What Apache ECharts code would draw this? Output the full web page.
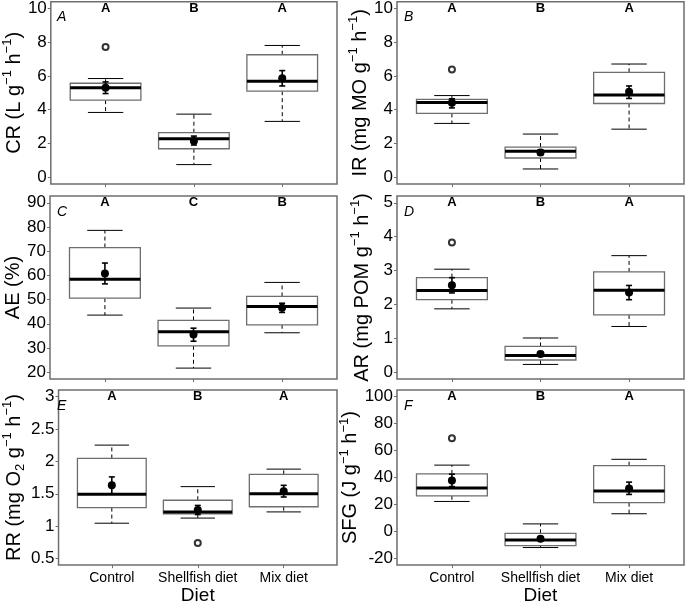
<!DOCTYPE html>
<html>
<head>
<meta charset="utf-8">
<script src="https://cdn.jsdelivr.net/npm/echarts@6/dist/echarts.min.js"></script>
<style>html,body{margin:0;padding:0;background:#fff}#c{width:685px;height:606px}</style>
</head>
<body>
<div id="c"></div>
<script>
// ---- data ----
const categories = ['Control', 'Shellfish diet', 'Mix diet'];

// box: [lower whisker, Q1, median, Q3, upper whisker]
const crBox = [[3.84, 4.57, 5.30, 5.57, 5.85], [0.75, 1.69, 2.28, 2.64, 3.74], [3.31, 5.10, 5.69, 7.26, 7.81]];
const crMean = [5.30, 2.15, 5.87];
const crErr = [[4.96, 5.65], [1.91, 2.44], [5.41, 6.32]];
const crOut = [[0, 7.72]];
const crLetters = ['A', 'B', 'A'];
const crTicks = [0, 2, 4, 6, 8, 10];

const irBox = [[3.19, 3.78, 4.43, 4.61, 4.84], [0.49, 1.14, 1.54, 1.79, 2.56], [2.85, 4.37, 4.88, 6.22, 6.71]];
const irMean = [4.41, 1.46, 5.06];
const irErr = [[4.11, 4.65], [1.32, 1.63], [4.67, 5.41]];
const irOut = [[0, 6.38]];
const irLetters = ['A', 'B', 'A'];
const irTicks = [0, 2, 4, 6, 8, 10];

const aeBox = [[43.6, 50.6, 58.4, 71.5, 78.6], [21.7, 30.9, 36.7, 41.4, 46.5], [36.3, 39.6, 47.1, 51.3, 57.1]];
const aeMean = [60.8, 35.6, 46.6];
const aeErr = [[56.5, 65.1], [32.8, 38.2], [44.7, 48.5]];
const aeOut = [];
const aeLetters = ['A', 'C', 'B'];
const aeTicks = [20, 30, 40, 50, 60, 70, 80, 90];

const arBox = [[1.87, 2.14, 2.41, 2.79, 3.04], [0.23, 0.36, 0.49, 0.76, 1.01], [1.35, 1.69, 2.42, 2.96, 3.44]];
const arMean = [2.57, 0.54, 2.35];
const arErr = [[2.34, 2.79], [0.47, 0.60], [2.14, 2.56]];
const arOut = [[0, 3.83]];
const arLetters = ['A', 'B', 'A'];
const arTicks = [0, 1, 2, 3, 4, 5];

const rrBox = [[1.046, 1.287, 1.494, 2.045, 2.25], [1.125, 1.19, 1.22, 1.40, 1.61], [1.22, 1.30, 1.50, 1.80, 1.88]];
const rrMean = [1.63, 1.25, 1.54];
const rrErr = [[1.50, 1.76], [1.18, 1.32], [1.45, 1.63]];
const rrOut = [[1, 0.74]];
const rrLetters = ['A', 'B', 'A'];
const rrTicks = [0.5, 1, 1.5, 2, 2.5, 3];

const sfgBox = [[22.3, 26.5, 32.2, 42.7, 49.2], [-11.8, -10.4, -6.2, -1.3, 5.7], [13.2, 21.4, 30.1, 48.8, 53.5]];
const sfgMean = [37.8, -5.3, 31.9];
const sfgErr = [[33.3, 42.5], [-6.7, -3.9], [27.5, 36.6]];
const sfgOut = [[0, 69.1]];
const sfgLetters = ['A', 'B', 'A'];
const sfgTicks = [-20, 0, 20, 40, 60, 80, 100];

// ---- panels ----
const FONT = "'Liberation Sans', Arial, Helvetica, sans-serif";
const panels = [
  {tag: 'A', box: crBox, mean: crMean, err: crErr, out: crOut, letters: crLetters, ticks: crTicks, ylim: [0, 10],
   name: '{m|CR (L g}{s|−1}{m| h}{s|−1}{m|)}'},
  {tag: 'B', box: irBox, mean: irMean, err: irErr, out: irOut, letters: irLetters, ticks: irTicks, ylim: [0, 10],
   name: '{m|IR (mg MO g}{s|−1}{m| h}{s|−1}{m|)}'},
  {tag: 'C', box: aeBox, mean: aeMean, err: aeErr, out: aeOut, letters: aeLetters, ticks: aeTicks, ylim: [20, 90],
   name: '{m|AE (%)}'},
  {tag: 'D', box: arBox, mean: arMean, err: arErr, out: arOut, letters: arLetters, ticks: arTicks, ylim: [0, 5],
   name: '{m|AR (mg POM g}{s|−1}{m| h}{s|−1}{m|)}'},
  {tag: 'E', box: rrBox, mean: rrMean, err: rrErr, out: rrOut, letters: rrLetters, ticks: rrTicks, ylim: [0.5, 3],
   name: '{m|RR (mg O}{b|2}{m| g}{s|−1}{m| h}{s|−1}{m|)}'},
  {tag: 'F', box: sfgBox, mean: sfgMean, err: sfgErr, out: sfgOut, letters: sfgLetters, ticks: sfgTicks, ylim: [-20, 100],
   name: '{m|SFG (J g}{s|−1}{m| h}{s|−1}{m|)}'}
];

const colLeft = [50, 397];
const rowTop = [1, 196, 390];
const GW = 287, GH = 183;

function renderBox(params, api) {
  const x = api.value(0);
  const lo = api.coord([x, api.value(1)]);
  const q1 = api.coord([x, api.value(2)]);
  const md = api.coord([x, api.value(3)]);
  const q3 = api.coord([x, api.value(4)]);
  const hi = api.coord([x, api.value(5)]);
  const half = api.size([0.4, 0])[0];
  const cap = api.size([0.2, 0])[0];
  const cx = md[0];
  const dash = {stroke: '#000', lineWidth: 1, lineDash: [4, 3]};
  const solid = {stroke: '#000', lineWidth: 1};
  return {type: 'group', children: [
    {type: 'line', shape: {x1: cx, y1: q3[1], x2: cx, y2: hi[1]}, style: dash},
    {type: 'line', shape: {x1: cx, y1: q1[1], x2: cx, y2: lo[1]}, style: dash},
    {type: 'line', shape: {x1: cx - cap, y1: hi[1], x2: cx + cap, y2: hi[1]}, style: solid},
    {type: 'line', shape: {x1: cx - cap, y1: lo[1], x2: cx + cap, y2: lo[1]}, style: solid},
    {type: 'rect', shape: {x: cx - half, y: q3[1], width: 2 * half, height: q1[1] - q3[1]},
     style: {fill: '#fff', stroke: '#6e6e6e', lineWidth: 1.3}},
    {type: 'line', shape: {x1: cx - half, y1: md[1], x2: cx + half, y2: md[1]}, style: {stroke: '#000', lineWidth: 3}}
  ]};
}

function renderMean(params, api) {
  const x = api.value(0);
  const m = api.coord([x, api.value(1)]);
  const lo = api.coord([x, api.value(2)]);
  const hi = api.coord([x, api.value(3)]);
  const st = {stroke: '#000', lineWidth: 1.6};
  return {type: 'group', children: [
    {type: 'line', shape: {x1: m[0], y1: lo[1], x2: m[0], y2: hi[1]}, style: st},
    {type: 'line', shape: {x1: m[0] - 3, y1: lo[1], x2: m[0] + 3, y2: lo[1]}, style: st},
    {type: 'line', shape: {x1: m[0] - 3, y1: hi[1], x2: m[0] + 3, y2: hi[1]}, style: st},
    {type: 'circle', shape: {cx: m[0], cy: m[1], r: 4}, style: {fill: '#000'}}
  ]};
}

function renderLetter(params, api) {
  const p = api.coord([api.value(0), api.value(1)]);
  return {type: 'text', x: p[0], y: p[1], style: {
    text: panels[params.seriesIndex >> 2].letters[params.dataIndex],
    font: 'bold 13px ' + FONT, fill: '#000', align: 'center', verticalAlign: 'middle'}};
}

const grid = [], xAxis = [], yAxis = [], series = [], graphic = [];
panels.forEach((p, i) => {
  const col = i % 2, row = Math.floor(i / 2);
  const left = colLeft[col], top = rowTop[row];
  grid.push({left: left, top: top, width: GW, height: GH, show: true, borderColor: '#6e6e6e', borderWidth: 1.5,
             backgroundColor: 'transparent', containLabel: false});
  const bottom = row === 2;
  xAxis.push({gridIndex: i, type: 'value', min: 0.38, max: 3.62, position: 'bottom',
    axisLine: {show: false, onZero: false}, splitLine: {show: false},
    axisTick: {show: true, length: 3, customValues: [1, 2, 3], lineStyle: {color: '#6e6e6e', width: 1}},
    axisLabel: {show: bottom, customValues: [1, 2, 3], formatter: v => categories[Math.round(v) - 1] || '',
                fontFamily: FONT, fontSize: 14, color: '#000', margin: 6},
    name: bottom ? 'Diet' : '', nameLocation: 'middle', nameGap: 20,
    nameTextStyle: {fontFamily: FONT, fontSize: 19, color: '#000'}});
  const pad = (p.ylim[1] - p.ylim[0]) * 0.04;
  yAxis.push({gridIndex: i, type: 'value', min: p.ylim[0] - pad, max: p.ylim[1] + pad, position: 'left',
    axisLine: {show: false, onZero: false}, splitLine: {show: false},
    axisTick: {show: true, length: 3, customValues: p.ticks, lineStyle: {color: '#6e6e6e', width: 1}},
    axisLabel: {customValues: p.ticks, fontFamily: FONT, fontSize: 17, color: '#000', margin: 4},
    name: p.name, nameLocation: 'middle', nameRotate: 90, nameGap: 22,
    nameTextStyle: {fontFamily: FONT, rich: {
      m: {fontFamily: FONT, fontSize: 20, color: '#000', lineHeight: 26},
      s: {fontFamily: FONT, fontSize: 13, color: '#000', lineHeight: 15, verticalAlign: 'top'},
      b: {fontFamily: FONT, fontSize: 13, color: '#000', lineHeight: 15, verticalAlign: 'bottom'}
    }}});
  series.push({type: 'custom', xAxisIndex: i, yAxisIndex: i, renderItem: renderBox,
    encode: {x: 0, y: [1, 2, 3, 4, 5]},
    data: p.box.map((b, k) => [k + 1].concat(b)), silent: true, z: 2});
  series.push({type: 'scatter', xAxisIndex: i, yAxisIndex: i, symbol: 'emptyCircle', symbolSize: 6,
    itemStyle: {color: '#000', borderWidth: 0.8}, data: p.out.map(o => [o[0] + 1, o[1]]), silent: true, z: 3});
  series.push({type: 'custom', xAxisIndex: i, yAxisIndex: i, renderItem: renderMean,
    encode: {x: 0, y: [1, 2, 3]},
    data: p.mean.map((m, k) => [k + 1, m, p.err[k][0], p.err[k][1]]), silent: true, z: 4});
  series.push({type: 'custom', xAxisIndex: i, yAxisIndex: i, renderItem: renderLetter,
    encode: {x: 0, y: 1},
    data: p.letters.map((l, k) => [k + 1, p.ylim[1]]), silent: true, z: 5});
  graphic.push({type: 'text', left: left + 7, top: top + 9,
    style: {text: p.tag, font: 'italic 14px ' + FONT, fill: '#000'}});
});

const chart = echarts.init(document.getElementById('c'), null, {renderer: 'canvas'});
chart.setOption({animation: false, backgroundColor: '#fff', grid, xAxis, yAxis, series, graphic});
</script>
</body>
</html>
